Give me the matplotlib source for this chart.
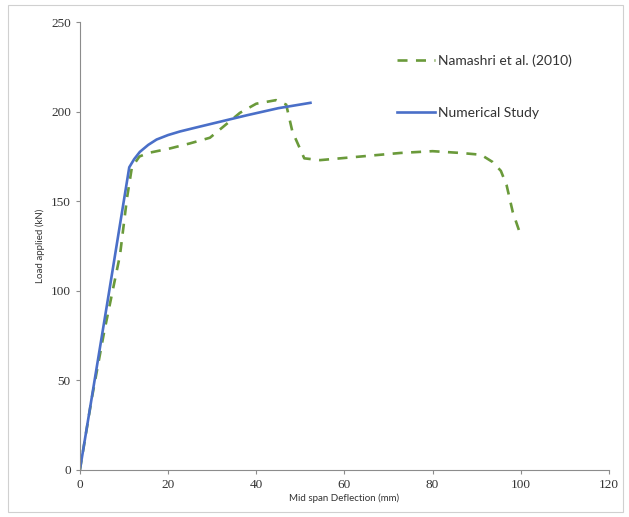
import matplotlib
matplotlib.use("Agg")
import matplotlib.pyplot as plt
from matplotlib.patches import Rectangle

# Numerical study (solid blue)
num_x = [0, 6.4, 11.2, 12.3, 13.6, 15.5, 17.4, 20, 22.7, 26, 30.2, 37.8, 45, 52.3]
num_y = [0, 96, 169, 173.5, 177.6, 181.5, 184.5, 187, 189, 191, 193.5, 198, 202, 205]

# Namashri et al. (2010) (dashed green)
exp_x = [0, 2.7, 5.5, 9.1, 10.7, 11.8, 13.5, 15.5, 20.4, 24.9, 29.5, 32.5, 36.3, 40,
         44.5, 46.8, 48.2, 50.9, 54.5, 63.6, 72.7, 80, 86.4, 91, 93.6, 95.5, 96.8, 98.2, 100]
exp_y = [0, 40, 77, 120, 152, 169, 175, 177, 179.5, 182.3, 185.5, 191.6, 199.4, 204.5,
         206.5, 204, 189, 174, 173, 175, 177, 178, 177, 176, 172, 167, 159, 144, 131]

x_ticks = [0, 20, 40, 60, 80, 100, 120]
y_ticks = [0, 50, 100, 150, 200, 250]

fig = plt.figure(figsize=(6.29, 5.17), dpi=100)
ax = fig.add_axes([0.127, 0.091, 0.841, 0.866])

ax.plot(exp_x, exp_y, color='#6a9a3a', lw=1.9, dashes=(3.8, 3.2), label='Namashri et al. (2010)')
ax.plot(num_x, num_y, color='#4a6fc8', lw=1.9, label='Numerical Study')

ax.set_xlim(0, 120)
ax.set_ylim(0, 250)
ax.set_xticks(x_ticks)
ax.set_yticks(y_ticks)
for sp in ['top', 'right']:
    ax.spines[sp].set_visible(False)
for sp in ['left', 'bottom']:
    ax.spines[sp].set_color('#8c8c8c')
ax.tick_params(colors='#8c8c8c', length=3, labelcolor='#333333')
for lab in ax.get_xticklabels() + ax.get_yticklabels():
    lab.set_family('Liberation Serif')
    lab.set_fontsize(9.5)

ax.set_xlabel('Mid span Deflection (mm)', fontsize=7, family='Lato', color='#333333', labelpad=2)
ax.set_ylabel('Load applied (kN)', fontsize=7, family='Lato', color='#333333', labelpad=4)

leg = ax.legend(loc='upper left', bbox_to_anchor=(0.575, 0.956), frameon=False,
                prop={'family': 'Lato', 'size': 10}, handlelength=2.8,
                labelspacing=2.85, handletextpad=0.15)
for t in leg.get_texts():
    t.set_color('#333333')

fig.patches.append(Rectangle((0.012, 0.01), 0.978, 0.98, transform=fig.transFigure,
                             fill=False, edgecolor='#d0d0d0', lw=0.8))

fig.savefig('out.png', dpi=100)
